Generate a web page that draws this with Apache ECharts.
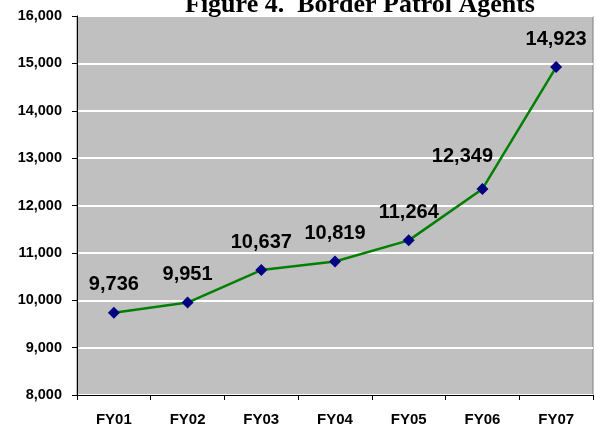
<!DOCTYPE html>
<html>
<head>
<meta charset="utf-8">
<script src="https://cdn.jsdelivr.net/npm/echarts@6/dist/echarts.min.js"></script>
<style>
  html, body { margin: 0; padding: 0; background: #fff; }
  #chart { width: 597px; height: 429px; }
</style>
</head>
<body>
<div id="chart"></div>
<script>
const categories = ['FY01', 'FY02', 'FY03', 'FY04', 'FY05', 'FY06', 'FY07']
const agents = [9736, 9951, 10637, 10819, 11264, 12349, 14923]
const yTicks = [8000, 9000, 10000, 11000, 12000, 13000, 14000, 15000, 16000]

const chart = echarts.init(document.getElementById('chart'))

// the FY06 label sits a little to the left of its point in the original
const seriesData = agents.map((v, i) =>
  i === 5 ? { value: v, label: { offset: [-20, -4] } } : v
)

const option = {
  animation: false,
  title: {
    text: 'Figure 4.  Border Patrol Agents',
    left: 355,
    top: -13,
    textAlign: 'center',
    textStyle: {
      fontFamily: 'Liberation Serif',
      fontWeight: 'bold',
      fontSize: 26,
      color: '#000'
    }
  },
  grid: {
    left: 77,
    right: 4,
    top: 16,
    bottom: 34,
    show: true,
    backgroundColor: '#C0C0C0',
    borderColor: '#808080',
    borderWidth: 1
  },
  xAxis: {
    type: 'category',
    data: categories,
    boundaryGap: true,
    axisLine: { lineStyle: { color: '#000', width: 1 } },
    axisTick: { show: true, alignWithLabel: false, length: 5, lineStyle: { color: '#000' } },
    axisLabel: {
      margin: 17,
      fontFamily: 'Liberation Sans',
      fontWeight: 'bold',
      fontSize: 15,
      color: '#000'
    },
    splitLine: { show: false }
  },
  yAxis: {
    type: 'value',
    min: yTicks[0],
    max: yTicks[yTicks.length - 1],
    interval: 1000,
    axisLine: { show: true, lineStyle: { color: '#000', width: 1 } },
    axisTick: { show: true, length: 5, lineStyle: { color: '#000' } },
    axisLabel: {
      margin: 15,
      fontFamily: 'Liberation Sans',
      fontWeight: 'bold',
      fontSize: 14.5,
      color: '#000',
      formatter: v => v.toLocaleString('en-US')
    },
    splitLine: { show: true, lineStyle: { color: '#fff', width: 2 } }
  },
  series: [
    {
      name: 'Border Patrol Agents',
      type: 'line',
      data: seriesData,
      symbol: 'diamond',
      symbolSize: 12,
      lineStyle: { color: '#008000', width: 2.5 },
      itemStyle: { color: '#000080' },
      label: {
        show: true,
        position: 'top',
        distance: 12,
        fontFamily: 'Liberation Sans',
        fontWeight: 'bold',
        fontSize: 20,
        color: '#000',
        formatter: p => p.value.toLocaleString('en-US')
      }
    }
  ]
}

chart.setOption(option)
</script>
</body>
</html>
